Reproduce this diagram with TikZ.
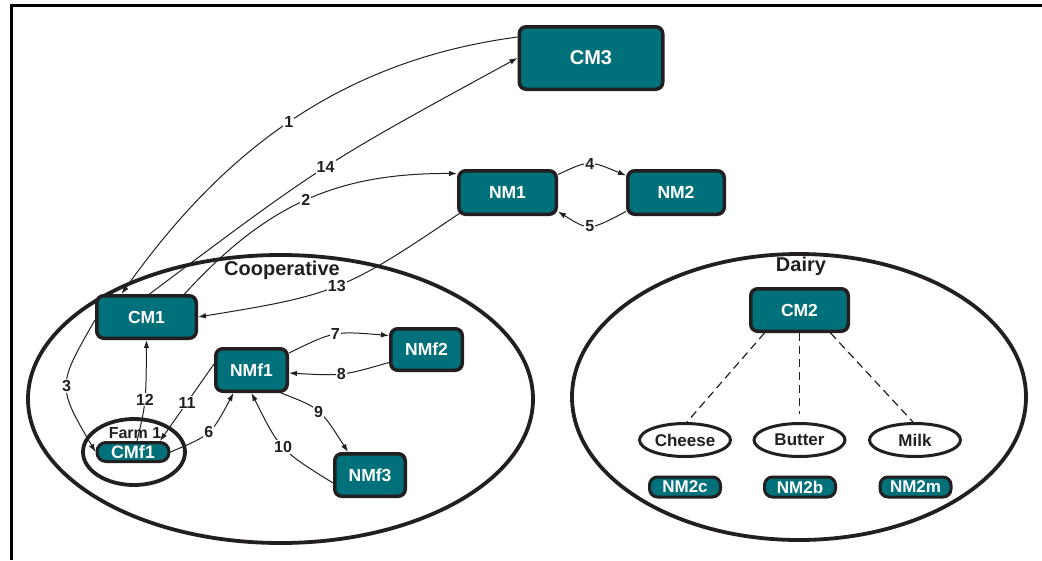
\documentclass[tikz,border=0pt]{standalone}
\usepackage{fontspec}
\setmainfont{Liberation Sans}
\usetikzlibrary{arrows.meta,shapes.geometric}
\definecolor{teal}{RGB}{0,112,122}
\definecolor{ink}{RGB}{35,31,32}
\begin{document}
\begin{tikzpicture}[x=1pt,y=-1pt,
  box/.style={draw=ink,line width=3.5pt,fill=teal,rounded corners=7pt,
    text=white,font=\fontsize{17.5}{20}\selectfont\bfseries,inner sep=0pt},
  pill/.style={draw=ink,line width=3pt,fill=teal,rounded corners=8pt,
    text=white,font=\fontsize{17}{20}\selectfont\bfseries,inner sep=0pt,
    minimum width=71pt,minimum height=20pt},
  product/.style={ellipse,draw=ink,line width=3pt,fill=white,text=ink,
    font=\fontsize{17}{20}\selectfont\bfseries,inner sep=0pt,
    minimum width=91pt,minimum height=33pt},
  group/.style={ellipse,draw=ink,line width=3.8pt,inner sep=0pt},
  grouplabel/.style={text=ink,font=\fontsize{20}{24}\selectfont\bfseries,inner sep=0pt},
  flow/.style={draw=ink,line width=1pt,-{Latex[length=8pt,width=5.5pt]}},
  tie/.style={draw=ink,line width=1.2pt,dash pattern=on 8pt off 5pt},
  lbl/.style={fill=white,text=ink,font=\fontsize{16}{18}\selectfont\bfseries,inner sep=1pt}]
\useasboundingbox (0,0) rectangle (1042,560);
\fill[white] (0,0) rectangle (1042,560);

% open frame
\draw[black,line width=3pt] (1042,5) -- (11,5) -- (11,560);

% groups
\node[group,minimum width=505pt,minimum height=288pt] (coop) at (280.5,399) {};
\node[group,minimum width=454pt,minimum height=286pt] (dairy) at (799,397) {};
\node[group,minimum width=102pt,minimum height=66pt] (farm) at (134,452) {};
\node[grouplabel] (cooplbl) at (282,270) {Cooperative};
\node[grouplabel] (dairylbl) at (801,266) {Dairy};
\node[text=ink,font=\fontsize{16}{18}\selectfont\bfseries,inner sep=0pt] (farmlbl) at (135,433) {Farm 1};

% actors
\node[box,minimum width=143.5pt,minimum height=62.5pt,font=\fontsize{20}{24}\selectfont\bfseries] (CM3) at (591,58) {CM3};
\node[box,minimum width=97.5pt,minimum height=43.5pt] (NM1) at (507.5,192.5) {NM1};
\node[box,minimum width=96.5pt,minimum height=43.5pt] (NM2) at (676,192.5) {NM2};
\node[box,minimum width=99.5pt,minimum height=42.5pt] (CM1) at (146.5,317) {CM1};
\node[box,minimum width=71.5pt,minimum height=42.5pt] (NMf1) at (251.5,370) {NMf1};
\node[box,minimum width=71.5pt,minimum height=41.5pt] (NMf2) at (426.5,349.5) {NMf2};
\node[box,minimum width=70.5pt,minimum height=42.5pt] (NMf3) at (370,475) {NMf3};
\node[box,minimum width=97.5pt,minimum height=42.5pt] (CM2) at (799.5,310) {CM2};
\node[pill,minimum width=72pt,minimum height=19pt,rounded corners=9pt,font=\fontsize{18}{20}\selectfont\bfseries] (CMf1) at (133,452) {CMf1};

% dairy products
\node[product] (cheese) at (685,440) {Cheese};
\node[product] (butter) at (799.5,440) {Butter};
\node[product] (milk) at (915,440) {Milk};
\node[pill] (NM2c) at (685,487) {NM2c};
\node[pill] (NM2b) at (800,487) {NM2b};
\node[pill] (NM2m) at (915.5,487) {NM2m};

\draw[tie] ([xshift=-35pt]CM2.south) -- ([xshift=2pt]cheese.north);
\draw[tie] (CM2.south) -- ([yshift=8pt]butter.north);
\draw[tie] ([xshift=31pt]CM2.south) -- ([xshift=-2pt]milk.north);

% flows
\draw[flow] ([yshift=21pt]CM3.west) .. controls (337,61) and (220,155) .. ([xshift=-25pt]CM1.north) node[lbl,pos=0.5] {1};
\draw[flow] ([xshift=3pt]CM1.north) .. controls (323,164) .. (CM3.west) node[lbl,pos=0.5] {14};
\draw[flow] ([xshift=38pt]CM1.north) .. controls (266,205) and (336,173) .. ([yshift=19pt]NM1.west) node[lbl,pos=0.5] {2};
\draw[flow] ([shift={(3pt,3pt)}]NM1.south west) .. controls (345,291) and (334,295) .. (CM1.east) node[lbl,pos=0.5] {13};
\draw[flow] ([yshift=18pt]NM1.east) .. controls (589,160) .. ([yshift=17pt]NM2.west) node[lbl,pos=0.5] {4};
\draw[flow] ([yshift=-19pt]NM2.west) .. controls (589,231) .. ([yshift=-19pt]NM1.east) node[lbl,pos=0.5] {5};
\draw[flow] ([yshift=17pt]NMf1.east) .. controls (334,331) .. ([yshift=14pt]NMf2.west) node[lbl,pos=0.5] {7};
\draw[flow] ([yshift=-13pt]NMf2.west) .. controls (342,376) .. ([yshift=-3pt]NMf1.east) node[lbl,pos=0.5] {8};
\draw[flow] ([xshift=-8pt]NMf1.south east) .. controls (320,408) .. ([xshift=-22pt]NMf3.north) node[lbl,pos=0.5] {9};
\draw[flow] ([yshift=-8pt]NMf3.west) .. controls (280,450) .. (NMf1.south) node[lbl,pos=0.5] {10};
\draw[flow] ([yshift=6pt]NMf1.west) -- ([xshift=27pt]CMf1.north) node[lbl,pos=0.5] {11};
\draw[flow] ([xshift=4pt]CMf1.north) .. controls (146,403) .. (CM1.south) node[lbl,pos=0.5] {12};
\draw[flow] (CMf1.east) .. controls (211,435) .. ([xshift=-18pt]NMf1.south) node[lbl,pos=0.5] {6};
\draw[flow] ([yshift=-3pt]CM1.west) .. controls (57,386) .. (CMf1.west) node[lbl,pos=0.5] {3};
\end{tikzpicture}
\end{document}
